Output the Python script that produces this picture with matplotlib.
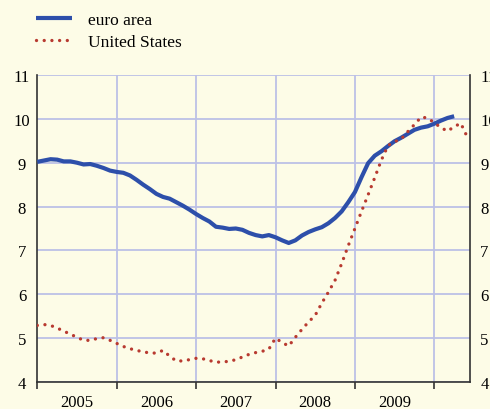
import matplotlib
matplotlib.use("Agg")
import matplotlib.pyplot as plt
import matplotlib.transforms as mtrans
import numpy as np

# ---- data (monthly, starting Jan 2005) ----
start_year = 2005
euro_area = [9.02, 9.05, 9.08, 9.07, 9.03, 9.03, 9.00, 8.96, 8.97, 8.93,
             8.88, 8.82, 8.79, 8.77, 8.71, 8.61, 8.50, 8.40, 8.29, 8.22,
             8.18, 8.10, 8.02, 7.93, 7.83, 7.74, 7.66, 7.54, 7.52, 7.49,
             7.50, 7.47, 7.40, 7.35, 7.32, 7.35, 7.30, 7.23, 7.17, 7.23,
             7.34, 7.42, 7.48, 7.53, 7.62, 7.74, 7.89, 8.10, 8.33, 8.67,
             8.99, 9.16, 9.26, 9.38, 9.49, 9.57, 9.66, 9.75, 9.80, 9.83,
             9.89, 9.96, 10.02, 10.06]
united_states = [5.29, 5.31, 5.29, 5.23, 5.16, 5.09, 5.02, 4.95, 4.95, 4.99,
                 5.01, 4.95, 4.88, 4.81, 4.76, 4.72, 4.69, 4.66, 4.66, 4.72,
                 4.59, 4.48, 4.48, 4.51, 4.54, 4.53, 4.49, 4.45, 4.46, 4.47,
                 4.51, 4.57, 4.63, 4.67, 4.70, 4.75, 5.00, 4.90, 4.82, 5.02,
                 5.20, 5.37, 5.52, 5.80, 6.05, 6.32, 6.70, 7.11, 7.50, 7.89,
                 8.27, 8.66, 9.06, 9.39, 9.48, 9.54, 9.71, 9.87, 10.04, 10.02,
                 9.91, 9.80, 9.72, 9.82, 9.90, 9.58]
year_labels = ["2005", "2006", "2007", "2008", "2009"]
y_ticks = [4, 5, 6, 7, 8, 9, 10, 11]
series_names = ["euro area", "United States"]

x_euro = start_year + np.arange(len(euro_area)) / 12.0
x_us = start_year + np.arange(len(united_states)) / 12.0

# ---- style ----
bg = "#FDFCE7"
grid_c = "#BCC1E6"
blue = "#2D4FAA"
red = "#B83A30"
plt.rcParams["font.family"] = ["Liberation Serif", "DejaVu Serif"]

fig = plt.figure(figsize=(4.9, 4.1), dpi=100, facecolor=bg)
ax = fig.add_axes([37.3 / 490, 1 - 383 / 410, (470 - 37.3) / 490, (383 - 76) / 410])
ax.set_facecolor(bg)

ax.set_xlim(2005, 2005 + (470 - 37.3) / 79.4)
ax.set_ylim(4, 11)

# grid
for yv in y_ticks:
    ax.axhline(yv, color=grid_c, lw=1.3, zorder=1)
for xv in range(2006, 2011):
    ax.axvline(xv, color=grid_c, lw=1.3, zorder=1)

l1, = ax.plot(x_euro, euro_area, color=blue, lw=3.0, solid_joinstyle="round",
              solid_capstyle="butt", zorder=3, label=series_names[0])
l2, = ax.plot(x_us, united_states, color=red, lw=2.4, linestyle=(0, (0.01, 2.3)),
              dash_capstyle="round", zorder=4, label=series_names[1])

# spines
ax.spines["top"].set_visible(False)
for s in ["left", "right", "bottom"]:
    ax.spines[s].set_color("#333333")
    ax.spines[s].set_linewidth(1.2)

# y ticks both sides
ax.set_yticks(y_ticks)
ax.set_yticklabels([str(v) for v in y_ticks])
ax.tick_params(axis="y", which="both", length=0, labelsize=12, left=True, right=True,
               labelleft=True, labelright=True, pad=11)
for t in ax.yaxis.get_major_ticks():
    t.label1.set_ha("center")
    t.label2.set_ha("left")
    t.label2.set_transform(t.label2.get_transform() +
                           mtrans.ScaledTranslation(-5 / 100, 0, fig.dpi_scale_trans))

# x ticks: year boundaries (major, no labels) and mid-year labels (minor)
ax.set_xticks(list(range(2005, 2011)))
ax.set_xticklabels([])
ax.set_xticks([y + 0.5 for y in range(2005, 2010)], minor=True)
ax.set_xticklabels(year_labels, minor=True)
ax.tick_params(axis="x", which="major", direction="out", length=5, width=1.2, color="#333333")
ax.tick_params(axis="x", which="minor", length=0, labelsize=12, pad=8.5)

leg = fig.legend(handles=[l1, l2], loc="upper left", bbox_to_anchor=(36 / 490, 1 - 13 / 410),
                 frameon=False, fontsize=12.5, handlelength=2.1, handletextpad=0.9,
                 labelspacing=0.35, borderpad=0, borderaxespad=0)

fig.savefig("out.png", dpi=100, facecolor=bg)
